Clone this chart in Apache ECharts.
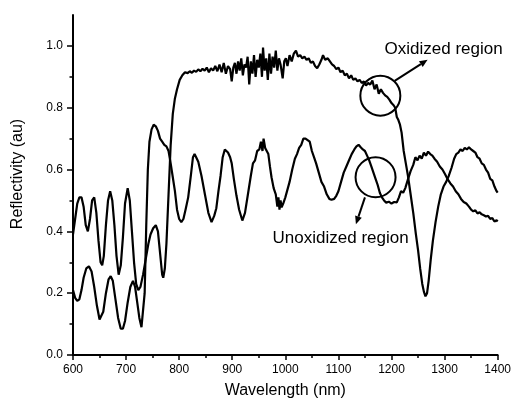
<!DOCTYPE html>
<html>
<head>
<meta charset="utf-8">
<script src="https://cdn.jsdelivr.net/npm/echarts@6/dist/echarts.min.js"></script>
<style>html,body{margin:0;padding:0;background:#fff;}#c{width:514px;height:404px;}</style>
</head>
<body>
<div id="c"></div>
<script>
// ---- data ----
const xTicks = [600, 700, 800, 900, 1000, 1100, 1200, 1300, 1400];
const yTicks = [0.0, 0.2, 0.4, 0.6, 0.8, 1.0];
const yMinorTicks = [0.1, 0.3, 0.5, 0.7, 0.9];

const oxidizedX = [600,604,608,612,616,620,624,628,632,636,640,644,648,652,655,658,662,666,670,674,678,682,686,690,694,698,703,707,711,715,719,723,727,732,737,742,746,751,756,760,764,768,770,773,776,780,784,788,792,796,801,806,811,816,820,824,828,832,836,840,844,848,852,856,860,864,868,872,876,880,884,888,892,896,899,902,905,908,911,914,917,920,923,926,929,932,935,938,941,944,947,950,953,956,958,961,964,967,970,973,976,979,982,985,988,991,995,998,1001,1004,1008,1012,1016,1020,1024,1028,1032,1036,1040,1044,1048,1052,1056,1060,1064,1068,1071,1075,1080,1084,1088,1092,1096,1100,1104,1108,1112,1116,1120,1124,1128,1132,1136,1140,1144,1148,1152,1156,1160,1164,1168,1172,1176,1180,1184,1188,1192,1196,1200,1204,1207,1210,1213,1216,1219,1223,1227,1231,1236,1241,1246,1250,1254,1258,1261,1264,1267,1270,1274,1278,1283,1288,1293,1298,1303,1308,1313,1318,1322,1326,1330,1334,1338,1342,1346,1350,1354,1358,1362,1366,1370,1374,1378,1382,1386,1390,1394,1398,1400];
const oxidizedY = [0.39,0.44,0.49,0.51,0.51,0.48,0.42,0.40,0.44,0.50,0.51,0.46,0.37,0.30,0.29,0.32,0.42,0.50,0.53,0.50,0.42,0.32,0.26,0.29,0.38,0.49,0.54,0.50,0.40,0.30,0.23,0.21,0.22,0.26,0.31,0.36,0.39,0.41,0.42,0.40,0.33,0.26,0.25,0.28,0.36,0.52,0.68,0.78,0.83,0.86,0.89,0.905,0.915,0.912,0.918,0.913,0.92,0.916,0.924,0.918,0.926,0.92,0.93,0.915,0.928,0.92,0.935,0.918,0.94,0.915,0.945,0.91,0.935,0.925,0.885,0.93,0.945,0.91,0.95,0.92,0.96,0.905,0.94,0.93,0.965,0.875,0.95,0.91,0.97,0.90,0.955,0.93,0.975,0.90,0.995,0.92,0.96,0.89,0.975,0.91,0.965,0.93,0.985,0.92,0.96,0.94,0.895,0.95,0.96,0.935,0.97,0.95,0.975,0.985,0.965,0.97,0.96,0.965,0.955,0.96,0.945,0.95,0.935,0.928,0.94,0.955,0.97,0.955,0.96,0.95,0.94,0.935,0.925,0.93,0.915,0.92,0.905,0.91,0.895,0.905,0.89,0.895,0.885,0.89,0.88,0.885,0.872,0.88,0.875,0.888,0.86,0.875,0.845,0.86,0.848,0.84,0.835,0.826,0.815,0.808,0.80,0.77,0.76,0.745,0.72,0.66,0.62,0.58,0.52,0.46,0.39,0.34,0.28,0.23,0.205,0.19,0.20,0.24,0.31,0.37,0.43,0.48,0.52,0.545,0.56,0.58,0.605,0.635,0.65,0.655,0.665,0.66,0.67,0.665,0.672,0.665,0.66,0.655,0.64,0.635,0.62,0.615,0.60,0.59,0.57,0.565,0.545,0.53,0.525];

const unoxidizedX = [600,604,608,612,616,620,625,630,635,640,645,650,653,657,662,667,671,675,680,685,690,694,698,703,708,713,717,721,725,729,732,735,738,741,744,748,752,756,760,764,768,772,776,780,784,788,792,796,800,804,808,812,817,822,826,829,832,836,842,849,855,861,866,870,874,878,882,886,889,892,896,899,903,908,913,919,924,930,935,939,943,947,951,954,957,959,962,965,968,971,974,978,982,985,987,989,991,993,996,1000,1004,1008,1013,1018,1022,1026,1030,1034,1038,1042,1046,1050,1054,1058,1063,1068,1073,1078,1083,1087,1092,1096,1100,1105,1110,1115,1120,1125,1130,1134,1138,1142,1146,1150,1154,1158,1162,1166,1170,1174,1178,1182,1186,1190,1195,1200,1205,1210,1214,1218,1222,1226,1231,1236,1241,1245,1249,1253,1257,1261,1265,1269,1273,1277,1281,1286,1291,1296,1301,1306,1311,1316,1321,1326,1331,1336,1341,1346,1350,1354,1358,1362,1366,1370,1374,1378,1382,1386,1390,1394,1398,1400];
const unoxidizedY = [0.21,0.185,0.175,0.18,0.21,0.25,0.28,0.287,0.27,0.22,0.16,0.115,0.115,0.14,0.20,0.245,0.255,0.24,0.18,0.12,0.085,0.085,0.11,0.17,0.22,0.24,0.22,0.17,0.12,0.09,0.09,0.20,0.42,0.60,0.69,0.73,0.745,0.74,0.725,0.70,0.69,0.68,0.675,0.66,0.62,0.575,0.53,0.47,0.44,0.43,0.44,0.47,0.51,0.58,0.64,0.65,0.64,0.625,0.58,0.515,0.46,0.43,0.45,0.475,0.53,0.58,0.64,0.665,0.67,0.655,0.64,0.62,0.57,0.515,0.47,0.435,0.46,0.525,0.58,0.62,0.63,0.66,0.665,0.69,0.66,0.70,0.67,0.66,0.65,0.61,0.575,0.54,0.52,0.48,0.51,0.47,0.50,0.478,0.49,0.51,0.535,0.56,0.60,0.635,0.65,0.67,0.68,0.70,0.70,0.695,0.69,0.66,0.64,0.62,0.59,0.56,0.545,0.52,0.505,0.502,0.505,0.515,0.53,0.56,0.59,0.61,0.63,0.65,0.665,0.675,0.68,0.672,0.665,0.66,0.645,0.63,0.61,0.59,0.57,0.55,0.525,0.51,0.50,0.493,0.496,0.49,0.495,0.494,0.51,0.53,0.525,0.54,0.568,0.595,0.615,0.64,0.63,0.645,0.635,0.655,0.645,0.658,0.65,0.645,0.635,0.625,0.61,0.60,0.585,0.568,0.555,0.545,0.53,0.52,0.505,0.495,0.49,0.48,0.47,0.465,0.468,0.458,0.462,0.455,0.452,0.448,0.45,0.44,0.443,0.432,0.436,0.432];

// annotation anchors in data coordinates
const oxidizedCircle = [1179, 0.839];
const oxidizedArrow = [[1206, 0.887], [1268, 0.955]];
const oxidizedLabel = [1187, 0.99];
const unoxidizedCircle = [1170, 0.575];
const unoxidizedArrow = [[1150, 0.51], [1133, 0.423]];
const unoxidizedLabel = [976, 0.378];

function pairs(xs, ys) { return xs.map((x, i) => [x, ys[i]]); }

const FONT = 'Liberation Sans, Arial, sans-serif';
const chart = echarts.init(document.getElementById('c'), null, {renderer: 'canvas'});
const axisCol = '#000';

chart.setOption({
  animation: false,
  backgroundColor: '#fff',
  grid: {left: 73, right: 16, top: 15, bottom: 47.5, containLabel: false},
  xAxis: {
    type: 'value', min: 600, max: 1400, interval: 100,
    name: 'Wavelength (nm)', nameLocation: 'middle', nameGap: 28,
    nameTextStyle: {fontFamily: FONT, fontSize: 16, color: '#000'},
    axisLine: {show: true, lineStyle: {color: axisCol, width: 2}},
    axisTick: {show: true, length: 5, lineStyle: {color: axisCol, width: 1.5}},
    minorTick: {show: true, splitNumber: 2, length: 3, lineStyle: {color: axisCol, width: 1.5}},
    axisLabel: {fontFamily: FONT, fontSize: 12, color: '#000', margin: 9,
      customValues: xTicks, formatter: v => String(v)},
    splitLine: {show: false}, minorSplitLine: {show: false}
  },
  yAxis: [{
    type: 'value', min: 0, max: 1.1, interval: 0.2, position: 'left',
    axisLine: {show: true, lineStyle: {color: axisCol, width: 2}},
    axisTick: {show: true, length: 6, customValues: yTicks, lineStyle: {color: axisCol, width: 1.5}},
    axisLabel: {fontFamily: FONT, fontSize: 12, color: '#000', margin: 10,
      customValues: yTicks, formatter: v => v.toFixed(1)},
    splitLine: {show: false}
  }, {
    type: 'value', min: 0, max: 1.1, position: 'left', offset: 0,
    axisLine: {show: false},
    axisTick: {show: true, length: 3.5, customValues: yMinorTicks, lineStyle: {color: axisCol, width: 1.5}},
    axisLabel: {show: false},
    splitLine: {show: false}
  }],
  series: [{
    name: 'Oxidized region', type: 'line', xAxisIndex: 0, yAxisIndex: 0,
    data: pairs(oxidizedX, oxidizedY), showSymbol: false, symbol: 'none',
    lineStyle: {color: '#000', width: 2.2}, z: 3
  }, {
    name: 'Unoxidized region', type: 'line', xAxisIndex: 0, yAxisIndex: 0,
    data: pairs(unoxidizedX, unoxidizedY), showSymbol: false, symbol: 'none',
    lineStyle: {color: '#000', width: 2.2}, z: 3
  }]
});

function px(p) { return chart.convertToPixel({xAxisIndex: 0, yAxisIndex: 0}, p); }
function arrow(a, b) {
  const p0 = px(a), p1 = px(b);
  const ang = Math.atan2(p1[1] - p0[1], p1[0] - p0[0]);
  const L = 8, W = 3.5;
  const bx = p1[0] - L * Math.cos(ang), by = p1[1] - L * Math.sin(ang);
  const nx = -Math.sin(ang) * W, ny = Math.cos(ang) * W;
  return [
    {type: 'line', shape: {x1: p0[0], y1: p0[1], x2: bx, y2: by}, style: {stroke: '#000', lineWidth: 2}, z: 10},
    {type: 'polygon', shape: {points: [[p1[0], p1[1]], [bx + nx, by + ny], [bx - nx, by - ny]]}, style: {fill: '#000'}, z: 10}
  ];
}
const oc = px(oxidizedCircle), uc = px(unoxidizedCircle);
const ol = px(oxidizedLabel), ul = px(unoxidizedLabel);
chart.setOption({
  graphic: [
    {type: 'circle', shape: {cx: oc[0], cy: oc[1], r: 20}, style: {fill: 'none', stroke: '#000', lineWidth: 2}, z: 10},
    {type: 'circle', shape: {cx: uc[0], cy: uc[1], r: 20}, style: {fill: 'none', stroke: '#000', lineWidth: 2}, z: 10},
    ...arrow(oxidizedArrow[0], oxidizedArrow[1]),
    ...arrow(unoxidizedArrow[0], unoxidizedArrow[1]),
    {type: 'text', x: ol[0], y: ol[1], style: {text: 'Oxidized region', font: '17px ' + FONT, fill: '#000', align: 'left', verticalAlign: 'middle'}, z: 10},
    {type: 'text', x: ul[0], y: ul[1], style: {text: 'Unoxidized region', font: '17px ' + FONT, fill: '#000', align: 'left', verticalAlign: 'middle'}, z: 10},
    {type: 'text', x: 18, y: 174, rotation: Math.PI / 2, style: {text: 'Reflectivity (au)', font: '16px ' + FONT, fill: '#000', align: 'center', verticalAlign: 'middle'}, z: 10}
  ]
});
</script>
</body>
</html>
